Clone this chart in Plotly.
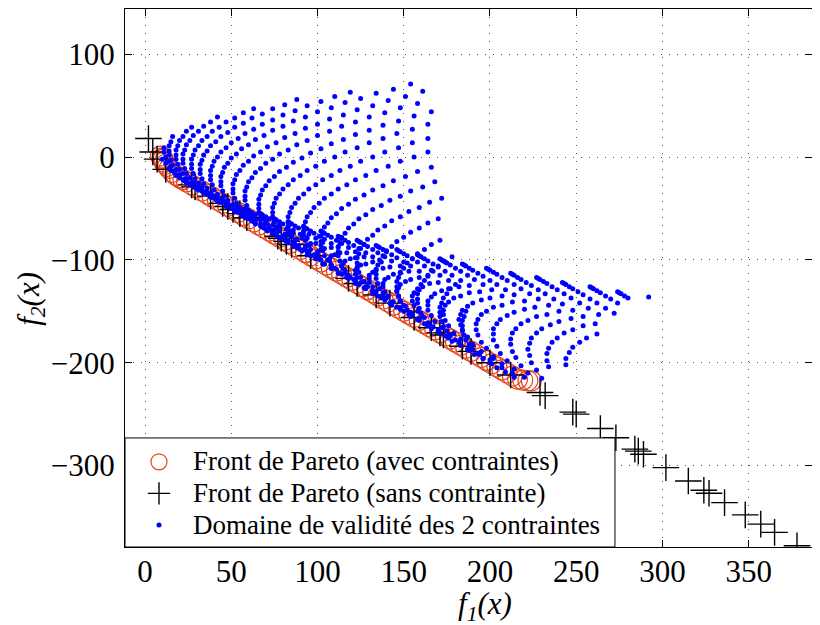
import plotly.graph_objects as go

# --- Front de Pareto avec contraintes (cercles rouges) ---
front_avec_f1 = [9, 10, 10.5, 11, 12, 13, 14, 16, 18, 20, 22, 24, 27, 30, 33, 36, 39, 42, 45, 48,
                 51, 54, 57, 60, 63, 66, 69, 72, 75, 78, 81, 84, 87, 90, 93, 96, 99, 102, 105,
                 108, 111, 114, 117, 120, 123, 126, 129, 132, 135, 138, 141, 144, 147, 150, 153,
                 156, 159, 162, 165, 168, 171, 174, 177, 180, 183, 186, 189, 192, 195, 198, 201,
                 204, 207, 210, 213, 216, 219, 222, 224]
front_avec_f2 = [1, -1, -2, -5, -7, -9, -11, -15, -18, -20, -22, -24, -27, -30, -33, -36, -39, -42, -45, -48,
                 -51, -54, -57, -60, -63, -66, -69, -72, -75, -78, -81, -84, -87, -90, -93, -96, -99, -102, -105,
                 -108, -111, -114, -117, -120, -123, -126, -129, -132, -135, -138, -141, -144, -147, -150, -153,
                 -156, -159, -162, -165, -168, -171, -174, -177, -180, -183, -186, -189, -192, -195, -198, -201,
                 -204, -207, -210, -213, -216, -217, -217.5, -217.6]

# --- Front de Pareto sans contrainte (croix noires) ---
front_sans_f1 = [2, 4.5, 7, 12, 27, 29, 38, 45, 48, 51, 55, 59, 77, 79, 82, 85, 96, 118, 123, 134,
                 142, 156, 166, 171, 173, 184, 189, 200, 212, 229, 232, 248, 250, 264, 273, 284,
                 286, 289, 302, 315, 324, 327, 336, 348, 357, 365, 378]
front_sans_f2 = [18, 5, -2, -12, -27, -29, -38, -45, -48, -51, -55, -59, -77, -79, -82, -85, -96, -118, -123, -134,
                 -142, -156, -166, -171, -173, -184, -189, -200, -212, -229, -232, -248, -250, -264, -273, -284,
                 -286, -289, -302, -315, -324, -327, -336, -348, -357, -365, -378]

# --- Domaine de validite (points bleus), lu colonne par colonne ---
domaine_f1 = [
    [292],
    [274, 275, 276, 278, 280],
    [258, 259, 260, 262, 264, 267, 270, 274],
    [242, 243, 244, 246, 248, 251, 254, 258, 262, 267, 272],
    [227, 228, 229, 231, 233, 236, 239, 243, 247, 252, 257, 263],
    [212, 213, 214, 216, 218, 221, 224, 228, 232, 237, 242, 248, 254, 261],
    [198, 199, 200, 202, 204, 207, 210, 214, 218, 223, 228, 234, 240, 247, 254, 262],
    [184, 185, 186, 188, 190, 193, 196, 200, 204, 209, 214, 220, 226, 233, 240, 248, 256],
    [171, 172, 173, 175, 177, 180, 183, 187, 191, 196, 201, 207, 213, 220, 227, 235, 243, 252],
    [158, 159, 160, 162, 164, 167, 170, 174, 178, 183, 188, 194, 200, 207, 214, 222, 230, 239, 248],
    [146, 147, 148, 150, 152, 155, 158, 162, 166, 171, 176, 182, 188, 195, 202, 210, 218, 227, 236, 246],
    [134, 135, 136, 138, 140, 143, 146, 150, 154, 159, 164, 170, 176, 183, 190, 198, 206, 215, 224, 234, 244],
    [123, 124, 125, 127, 129, 132, 135, 139, 143, 148, 153, 159, 165, 172, 179, 187, 195, 204, 213, 223, 233, 244],
    [112, 113, 114, 116, 118, 121, 124, 128, 132, 137, 142, 148, 154, 161, 168, 176, 184, 193, 202, 212, 222, 233],
    [102, 103, 104, 106, 108, 111, 114, 118, 122, 127, 132, 138, 144, 151, 158, 166, 174, 183, 192, 202, 212, 223, 234],
    [92, 93, 94, 96, 98, 101, 104, 108, 112, 117, 122, 128, 134, 141, 148, 156, 164, 173, 182, 192, 202, 213, 224],
    [83, 84, 85, 87, 89, 92, 95, 99, 103, 108, 113, 119, 125, 132, 139, 147, 155, 164, 173, 183, 193, 204, 215, 227],
    [74, 75, 76, 78, 80, 83, 86, 90, 94, 99, 104, 110, 116, 123, 130, 138, 146, 155, 164, 174, 184, 195, 206, 218, 230],
    [66, 67, 68, 70, 72, 75, 78, 82, 86, 91, 96, 102, 108, 115, 122, 130, 138, 147, 156, 166, 176, 187, 198, 210, 222],
    [58, 59, 60, 62, 64, 67, 70, 74, 78, 83, 88, 94, 100, 107, 114, 122, 130, 139, 148, 158, 168, 179, 190, 202, 214],
    [52, 53, 55, 57, 60, 63, 67, 71, 76, 81, 87, 93, 100, 107, 115, 123, 132, 141, 151, 161, 172, 183, 195, 207, 220],
    [45, 46, 48, 50, 53, 56, 60, 64, 69, 74, 80, 86, 93, 100, 108, 116, 125, 134, 144, 154, 165, 176, 188, 200, 213],
    [39, 40, 42, 44, 47, 50, 54, 58, 63, 68, 74, 80, 87, 94, 102, 110, 119, 128, 138, 148, 159, 170, 182, 194, 207],
    [34, 36, 38, 41, 44, 48, 52, 57, 62, 68, 74, 81, 88, 96, 104, 113, 122, 132, 142, 153, 164, 176, 188, 201, 214],
    [29, 31, 33, 36, 39, 43, 47, 52, 57, 63, 69, 76, 83, 91, 99, 108, 117, 127, 137, 148, 159, 171, 183, 196, 209],
    [24, 26, 28, 31, 34, 38, 42, 47, 52, 58, 64, 71, 78, 86, 94, 103, 112, 122, 132, 143, 154, 166, 178, 191, 204],
    [22, 24, 27, 30, 34, 38, 43, 48, 54, 60, 67, 74, 82, 90, 99, 108, 118, 128, 139, 150, 162, 174, 187, 200],
    [18, 20, 23, 26, 30, 34, 39, 44, 50, 56, 63, 70, 78, 86, 95, 104, 114, 124, 135, 146, 158, 170, 183, 196],
    [15, 17, 20, 23, 27, 31, 36, 41, 47, 53, 60, 67, 75, 83, 92, 101, 111, 121, 132, 143, 155, 167, 180, 193],
    [14, 17, 20, 24, 28, 33, 38, 44, 50, 57, 64, 72, 80, 89, 98, 108, 118, 129, 140, 152, 164, 177, 190],
    [12, 15, 18, 22, 26, 31, 36, 42, 48, 55, 62, 70, 78, 87, 96, 106, 116, 127, 138, 150, 162, 175, 188, 202],
    [10, 13, 16, 20, 24, 29, 34, 40, 46, 53, 60, 68, 76, 85, 94, 104, 114, 125, 136, 148, 160, 173, 186],
    [12, 15, 19, 23, 28, 33, 39, 45, 52, 59, 67, 75, 84, 93, 103, 113, 124, 135, 147, 159, 172, 185],
    [11, 14, 18, 22, 27, 32, 38, 44, 51, 58, 66, 74, 83, 92, 102, 112, 123, 134, 146, 158, 171, 184],
    [11, 14, 18, 22, 27, 32, 38, 44, 51, 58, 66, 74, 83, 92, 102, 112, 123, 134, 146, 158, 171, 184],
    [14, 18, 22, 27, 32, 38, 44, 51, 58, 66, 74, 83, 92, 102, 112, 123, 134, 146, 158, 171, 184],
    [15, 19, 23, 28, 33, 39, 45, 52, 59, 67, 75, 84, 93, 103, 113, 124, 135, 147, 159, 172, 185],
    [16, 20, 24, 29, 34, 40, 46, 53, 60, 68, 76, 85, 94, 104, 114, 125, 136, 148, 160, 173, 186],
    [22, 26, 31, 36, 42, 48, 55, 62, 70, 78, 87, 96, 106, 116, 127, 138, 150, 162, 175],
    [24, 28, 33, 38, 44, 50, 57, 64, 72, 80, 89, 98, 108, 118, 129, 140, 152, 164, 177],
    [27, 31, 36, 41, 47, 53, 60, 67, 75, 83, 92, 101, 111, 121, 132, 143, 155, 167, 180],
    [34, 39, 44, 50, 56, 63, 70, 78, 86, 95, 104, 114, 124, 135, 146, 158, 170],
    [38, 43, 48, 54, 60, 67, 74, 82, 90, 99, 108, 118, 128, 139, 150, 162, 174],
    [42, 47, 52, 58, 64, 71, 78, 86, 94, 103, 112, 122, 132, 143, 154, 166, 178],
    [52, 57, 63, 69, 76, 83, 91, 99, 108, 117, 127, 137, 148, 159, 171],
    [57, 62, 68, 74, 81, 88, 96, 104, 113, 122, 132, 142, 153, 164],
    [63, 68, 74, 80, 87, 94, 102, 110, 119, 128, 138, 148, 159, 170],
    [74, 80, 86, 93, 100, 108, 116, 125, 134, 144, 154, 165],
    [81, 87, 93, 100, 107, 115, 123, 132, 141, 151, 161, 172],
    [88, 94, 100, 107, 114, 122, 130, 139, 148, 158, 168],
    [102, 108, 115, 122, 130, 138, 147, 156, 166],
    [110, 116, 123, 130, 138, 146, 155, 164],
    [119, 125, 132, 139, 147, 155, 164],
    [134, 141, 148, 156, 164],
    [144, 151, 158, 166],
    [154, 161],
]
domaine_f2 = [
    [-136],
    [-131, -132, -133, -135, -137],
    [-126, -127, -128, -130, -132, -135, -138, -142],
    [-122, -123, -124, -126, -128, -131, -134, -138, -142, -147, -152],
    [-117, -118, -119, -121, -123, -126, -129, -133, -137, -142, -147, -153],
    [-113, -114, -115, -117, -119, -122, -125, -129, -133, -138, -143, -149, -155, -162],
    [-108, -109, -110, -112, -114, -117, -120, -124, -128, -133, -138, -144, -150, -157, -164, -172],
    [-104, -105, -106, -108, -110, -113, -116, -120, -124, -129, -134, -140, -146, -153, -160, -168, -176],
    [-99, -100, -101, -103, -105, -108, -111, -115, -119, -124, -129, -135, -141, -148, -155, -163, -171, -180],
    [-95, -96, -97, -99, -101, -104, -107, -111, -115, -120, -125, -131, -137, -144, -151, -159, -167, -176, -185],
    [-90, -91, -92, -94, -96, -99, -102, -106, -110, -115, -120, -126, -132, -139, -146, -154, -162, -171, -180, -190],
    [-86, -87, -88, -90, -92, -95, -98, -102, -106, -111, -116, -122, -128, -135, -142, -150, -158, -167, -176, -186, -196],
    [-81, -82, -83, -85, -87, -90, -93, -97, -101, -106, -111, -117, -123, -130, -137, -145, -153, -162, -171, -181, -191, -202],
    [-77, -78, -79, -81, -83, -86, -89, -93, -97, -102, -107, -113, -119, -126, -133, -141, -149, -158, -167, -177, -187, -198],
    [-72, -73, -74, -76, -78, -81, -84, -88, -92, -97, -102, -108, -114, -121, -128, -136, -144, -153, -162, -172, -182, -193, -204],
    [-68, -69, -70, -72, -74, -77, -80, -84, -88, -93, -98, -104, -110, -117, -124, -132, -140, -149, -158, -168, -178, -189, -200],
    [-63, -64, -65, -67, -69, -72, -75, -79, -83, -88, -93, -99, -105, -112, -119, -127, -135, -144, -153, -163, -173, -184, -195, -207],
    [-59, -60, -61, -63, -65, -68, -71, -75, -79, -84, -89, -95, -101, -108, -115, -123, -131, -140, -149, -159, -169, -180, -191, -203, -215],
    [-54, -55, -56, -58, -60, -63, -66, -70, -74, -79, -84, -90, -96, -103, -110, -118, -126, -135, -144, -154, -164, -175, -186, -198, -210],
    [-50, -51, -52, -54, -56, -59, -62, -66, -70, -75, -80, -86, -92, -99, -106, -114, -122, -131, -140, -150, -160, -171, -182, -194, -206],
    [-46, -47, -49, -51, -54, -57, -61, -65, -70, -75, -81, -87, -94, -101, -109, -117, -126, -135, -145, -155, -166, -177, -189, -201, -214],
    [-42, -43, -45, -47, -50, -53, -57, -61, -66, -71, -77, -83, -90, -97, -105, -113, -122, -131, -141, -151, -162, -173, -185, -197, -210],
    [-37, -38, -40, -42, -45, -48, -52, -56, -61, -66, -72, -78, -85, -92, -100, -108, -117, -126, -136, -146, -157, -168, -180, -192, -205],
    [-34, -36, -38, -41, -44, -48, -52, -57, -62, -68, -74, -81, -88, -96, -104, -113, -122, -132, -142, -153, -164, -176, -188, -201, -214],
    [-29, -31, -33, -36, -39, -43, -47, -52, -57, -63, -69, -76, -83, -91, -99, -108, -117, -127, -137, -148, -159, -171, -183, -196, -209],
    [-25, -27, -29, -32, -35, -39, -43, -48, -53, -59, -65, -72, -79, -87, -95, -104, -113, -123, -133, -144, -155, -167, -179, -192, -205],
    [-22, -24, -27, -30, -34, -38, -43, -48, -54, -60, -67, -74, -82, -90, -99, -108, -118, -128, -139, -150, -162, -174, -187, -200],
    [-18, -20, -23, -26, -30, -34, -39, -44, -50, -56, -63, -70, -78, -86, -95, -104, -114, -124, -135, -146, -158, -170, -183, -196],
    [-13, -15, -18, -21, -25, -29, -34, -39, -45, -51, -58, -65, -73, -81, -90, -99, -109, -119, -130, -141, -153, -165, -178, -191],
    [-11, -14, -17, -21, -25, -30, -35, -41, -47, -54, -61, -69, -77, -86, -95, -105, -115, -126, -137, -149, -161, -174, -187],
    [-6, -9, -12, -16, -20, -25, -30, -36, -42, -49, -56, -64, -72, -81, -90, -100, -110, -121, -132, -144, -156, -169, -182, -196],
    [-2, -5, -8, -12, -16, -21, -26, -32, -38, -45, -52, -60, -68, -77, -86, -96, -106, -117, -128, -140, -152, -165, -178],
    [0, -3, -7, -11, -16, -21, -27, -33, -40, -47, -55, -63, -72, -81, -91, -101, -112, -123, -135, -147, -160, -173],
    [5, 2, -2, -6, -11, -16, -22, -28, -35, -42, -50, -58, -67, -76, -86, -96, -107, -118, -130, -142, -155, -168],
    [9, 6, 2, -2, -7, -12, -18, -24, -31, -38, -46, -54, -63, -72, -82, -92, -103, -114, -126, -138, -151, -164],
    [11, 7, 3, -2, -7, -13, -19, -26, -33, -41, -49, -58, -67, -77, -87, -98, -109, -121, -133, -146, -159],
    [15, 11, 7, 2, -3, -9, -15, -22, -29, -37, -45, -54, -63, -73, -83, -94, -105, -117, -129, -142, -155],
    [20, 16, 12, 7, 2, -4, -10, -17, -24, -32, -40, -49, -58, -68, -78, -89, -100, -112, -124, -137, -150],
    [20, 16, 11, 6, 0, -6, -13, -20, -28, -36, -45, -54, -64, -74, -85, -96, -108, -120, -133],
    [25, 21, 16, 11, 5, -1, -8, -15, -23, -31, -40, -49, -59, -69, -80, -91, -103, -115, -128],
    [29, 25, 20, 15, 9, 3, -4, -11, -19, -27, -36, -45, -55, -65, -76, -87, -99, -111, -124],
    [30, 25, 20, 14, 8, 1, -6, -14, -22, -31, -40, -50, -60, -71, -82, -94, -106],
    [34, 29, 24, 18, 12, 5, -2, -10, -18, -27, -36, -46, -56, -67, -78, -90, -102],
    [39, 34, 29, 23, 17, 10, 3, -5, -13, -22, -31, -41, -51, -62, -73, -85, -97],
    [38, 33, 27, 21, 14, 7, -1, -9, -18, -27, -37, -47, -58, -69, -81],
    [43, 38, 32, 26, 19, 12, 4, -4, -13, -22, -32, -42, -53, -64],
    [47, 42, 36, 30, 23, 16, 8, 0, -9, -18, -28, -38, -49, -60],
    [47, 41, 35, 28, 21, 13, 5, -4, -13, -23, -33, -44],
    [51, 45, 39, 32, 25, 17, 9, 0, -9, -19, -29, -40],
    [56, 50, 44, 37, 30, 22, 14, 5, -4, -14, -24],
    [54, 48, 41, 34, 26, 18, 9, 0, -10],
    [59, 53, 46, 39, 31, 23, 14, 5],
    [63, 57, 50, 43, 35, 27, 18],
    [62, 55, 48, 40, 32],
    [66, 59, 52, 44],
    [71, 64],
]

x_ticks = [0, 50, 100, 150, 200, 250, 300, 350]
y_ticks = [-300, -200, -100, 0, 100]

police = "Liberation Serif"

# on met les colonnes bout a bout
dom_x = [v for col in domaine_f1 for v in col]
dom_y = [v for col in domaine_f2 for v in col]


def nom(txt):
    # texte de legende plus grand que l'interligne de la legende
    return '<span style="font-size:27px">' + txt + '</span>'


fig = go.Figure()

fig.add_trace(go.Scatter(
    x=front_avec_f1, y=front_avec_f2, mode="markers",
    name=nom("Front de Pareto (avec contraintes)"),
    marker=dict(symbol="circle-open", size=20, color="#e4451c", line=dict(width=1.2, color="#e4451c")),
))
fig.add_trace(go.Scatter(
    x=front_sans_f1, y=front_sans_f2, mode="markers",
    name=nom("Front de Pareto (sans contrainte)"),
    marker=dict(symbol="cross-thin-open", size=19, color="black", line=dict(width=1.4, color="black")),
))
fig.add_trace(go.Scatter(
    x=dom_x, y=dom_y, mode="markers",
    name=nom("Domaine de validité des 2 contraintes"),
    marker=dict(symbol="circle", size=5, color="#0000ff", line=dict(width=0)),
))

axe = dict(
    showline=True, linecolor="black", linewidth=1, mirror="ticks",
    ticks="inside", ticklen=7, tickcolor="black",
    showgrid=True, gridcolor="#555555", griddash="1px,7px", gridwidth=1,
    zeroline=False, tickfont=dict(family=police, size=31, color="black"),
)

# la page ajoute 8 px de marge autour de la figure : on compense
fig.update_layout(
    width=812, height=617,
    margin=dict(l=117, r=8, t=1, b=78),
    plot_bgcolor="white", paper_bgcolor="white",
    font=dict(family=police, color="black"),
    xaxis=dict(axe, range=[-11.6, 386.7], tickvals=x_ticks, ticklabelstandoff=-3),
    yaxis=dict(axe, range=[-379.2, 144], tickvals=y_ticks, ticklabelstandoff=3),
    legend=dict(x=0, y=0.197, xanchor="left", yanchor="top",
                bgcolor="rgba(0,0,0,0)", borderwidth=0,
                font=dict(family=police, size=22, color="black"),
                itemwidth=58, tracegroupgap=0),
    showlegend=True,
    shapes=[
        # cadre de la legende
        dict(type="rect", xref="paper", yref="paper", x0=0, x1=0.7132, y0=0, y1=0.2027,
             fillcolor="white", line=dict(color="black", width=1), layer="above"),
    ],
    annotations=[
        dict(text="<i>f</i><sub><i>1</i></sub><i>(x)</i>", xref="paper", yref="paper",
             x=0.524, y=-0.11, xanchor="center", yanchor="middle", showarrow=False,
             font=dict(family=police, size=31, color="black")),
        dict(text="<i>f</i><sub><i>2</i></sub><i>(x)</i>", xref="paper", yref="paper",
             x=-0.137, y=0.461, xanchor="center", yanchor="middle", showarrow=False,
             textangle=-90, font=dict(family=police, size=31, color="black")),
    ],
)

fig.write_html("out.html")
